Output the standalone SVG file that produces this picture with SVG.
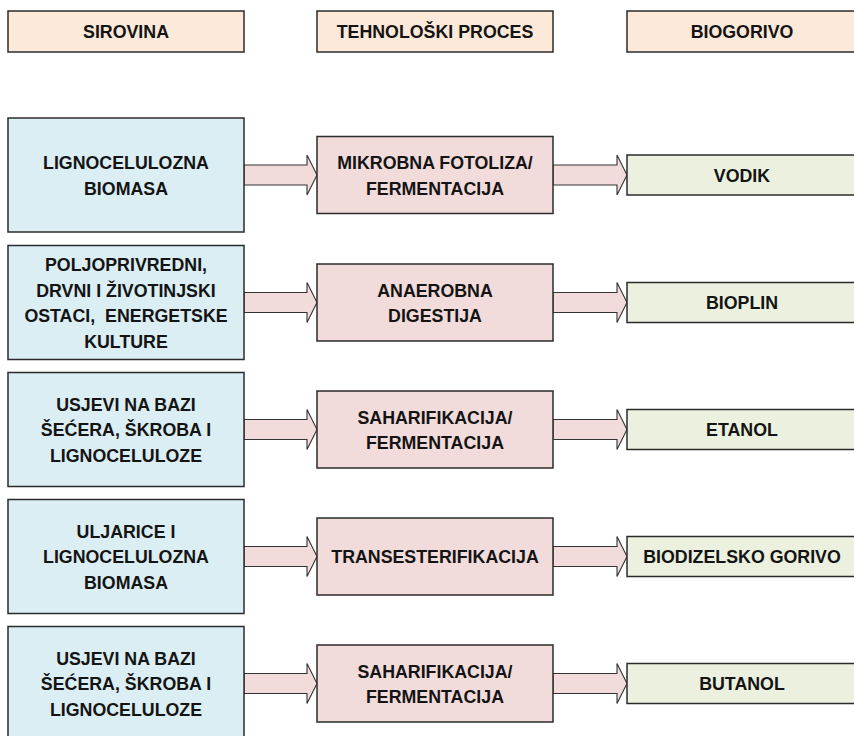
<svg xmlns="http://www.w3.org/2000/svg" width="854" height="736" viewBox="0 0 854 736">
<style>
text{font-family:"Liberation Sans",Arial,sans-serif;font-weight:bold;font-size:17.8px;fill:#141414;text-anchor:middle;white-space:pre}
.hdr{fill:#fde9d9;stroke:#2b2b2b;stroke-width:1.5}
.src{fill:#daeef3;stroke:#2b2b2b;stroke-width:1.5}
.proc{fill:#f2dcdb;stroke:#2b2b2b;stroke-width:1.5}
.prod{fill:#ebf1de;stroke:#2b2b2b;stroke-width:1.5}
.arr{fill:#f2dcdb;stroke:#333;stroke-width:1.1;stroke-linejoin:miter}
</style>
<rect width="854" height="736" fill="#fff"/>
<g id="hdr-sirovina"><rect class="hdr" x="8" y="11" width="236" height="41"/><text x="126" y="38">SIROVINA</text></g>
<g id="hdr-proces"><rect class="hdr" x="317" y="11" width="236" height="41"/><text x="435" y="38">TEHNOLOŠKI PROCES</text></g>
<g id="hdr-biogorivo"><rect class="hdr" x="627" y="11" width="236" height="41"/><text x="742" y="38">BIOGORIVO</text></g>

<g id="connectors">
<polygon class="arr" points="244,165 307,165 307,155 317,175 307,195 307,185 244,185"/>
<polygon class="arr" points="553,165 617,165 617,155 627,175 617,195 617,185 553,185"/>
<polygon class="arr" points="244,292.5 307,292.5 307,282.5 317,302.5 307,322.5 307,312.5 244,312.5"/>
<polygon class="arr" points="553,292.5 617,292.5 617,282.5 627,302.5 617,322.5 617,312.5 553,312.5"/>
<polygon class="arr" points="244,419.5 307,419.5 307,409.5 317,429.5 307,449.5 307,439.5 244,439.5"/>
<polygon class="arr" points="553,419.5 617,419.5 617,409.5 627,429.5 617,449.5 617,439.5 553,439.5"/>
<polygon class="arr" points="244,546.5 307,546.5 307,536.5 317,556.5 307,576.5 307,566.5 244,566.5"/>
<polygon class="arr" points="553,546.5 617,546.5 617,536.5 627,556.5 617,576.5 617,566.5 553,566.5"/>
<polygon class="arr" points="244,673.5 307,673.5 307,663.5 317,683.5 307,703.5 307,693.5 244,693.5"/>
<polygon class="arr" points="553,673.5 617,673.5 617,663.5 627,683.5 617,703.5 617,693.5 553,693.5"/>
</g>

<g id="src1"><rect class="src" x="8" y="118" width="236" height="114"/><text x="126" y="169">LIGNOCELULOZNA</text><text x="126" y="194.5">BIOMASA</text></g>
<g id="proc1"><rect class="proc" x="317" y="136.5" width="236" height="77"/><text x="435" y="169">MIKROBNA FOTOLIZA/</text><text x="435" y="194.5">FERMENTACIJA</text></g>
<g id="prod1"><rect class="prod" x="627" y="155" width="236" height="40"/><text x="742" y="181.5">VODIK</text></g>

<g id="src2"><rect class="src" x="8" y="245.5" width="236" height="114"/><text x="126" y="271">POLJOPRIVREDNI,</text><text x="126" y="296.5">DRVNI I ŽIVOTINJSKI</text><text x="126" y="322">OSTACI,  ENERGETSKE</text><text x="126" y="347.5">KULTURE</text></g>
<g id="proc2"><rect class="proc" x="317" y="264" width="236" height="77"/><text x="435" y="296.5">ANAEROBNA</text><text x="435" y="322">DIGESTIJA</text></g>
<g id="prod2"><rect class="prod" x="627" y="282.5" width="236" height="40"/><text x="742" y="309">BIOPLIN</text></g>

<g id="src3"><rect class="src" x="8" y="372.5" width="236" height="114"/><text x="126" y="410.5">USJEVI NA BAZI</text><text x="126" y="436">ŠEĆERA, ŠKROBA I</text><text x="126" y="461.5">LIGNOCELULOZE</text></g>
<g id="proc3"><rect class="proc" x="317" y="391" width="236" height="77"/><text x="435" y="423.5">SAHARIFIKACIJA/</text><text x="435" y="449">FERMENTACIJA</text></g>
<g id="prod3"><rect class="prod" x="627" y="409.5" width="236" height="40"/><text x="742" y="436">ETANOL</text></g>

<g id="src4"><rect class="src" x="8" y="499.5" width="236" height="114"/><text x="126" y="537.5">ULJARICE I</text><text x="126" y="563">LIGNOCELULOZNA</text><text x="126" y="588.5">BIOMASA</text></g>
<g id="proc4"><rect class="proc" x="317" y="518" width="236" height="77"/><text x="435" y="563">TRANSESTERIFIKACIJA</text></g>
<g id="prod4"><rect class="prod" x="627" y="536.5" width="236" height="40"/><text x="742" y="563">BIODIZELSKO GORIVO</text></g>

<g id="src5"><rect class="src" x="8" y="626.5" width="236" height="114"/><text x="126" y="664.5">USJEVI NA BAZI</text><text x="126" y="690">ŠEĆERA, ŠKROBA I</text><text x="126" y="715.5">LIGNOCELULOZE</text></g>
<g id="proc5"><rect class="proc" x="317" y="645" width="236" height="77"/><text x="435" y="677.5">SAHARIFIKACIJA/</text><text x="435" y="703">FERMENTACIJA</text></g>
<g id="prod5"><rect class="prod" x="627" y="663.5" width="236" height="40"/><text x="742" y="690">BUTANOL</text></g>
</svg>
